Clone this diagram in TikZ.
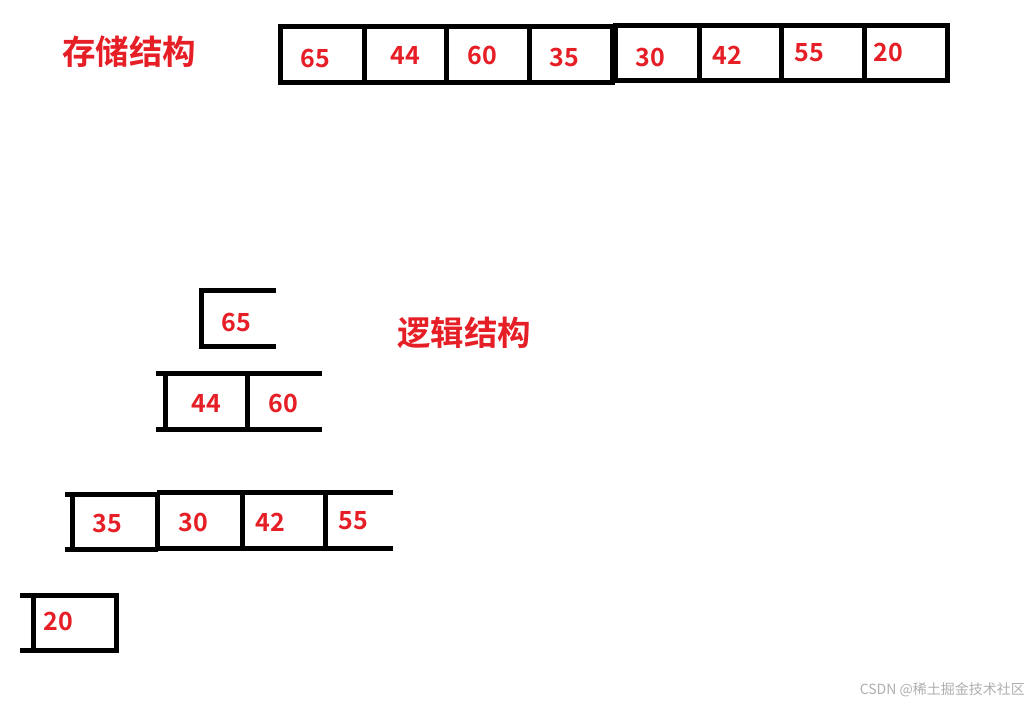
\documentclass[tikz,border=0pt]{standalone}
\usepackage{fontspec}
\setmainfont{Noto Sans CJK SC}[BoldFont={* Bold}]
\newfontfamily\cjkb{Noto Sans CJK SC Bold}
\definecolor{numred}{RGB}{230,30,38}
\definecolor{wmgray}{RGB}{175,175,175}
\begin{document}
\begin{tikzpicture}[x=1pt,y=-1pt,
  edge/.style={line width=5pt,black,line join=miter},
  num/.style={text=numred,font=\cjkb\fontsize{25}{27}\selectfont,inner sep=0pt},
  title/.style={text=numred,font=\cjkb\fontsize{33.5}{35}\selectfont,inner sep=0pt},
  wm/.style={text=wmgray,font=\fontsize{14}{16}\selectfont,inner sep=0pt}]
\fill[white] (0,0) rectangle (1033,706);
\useasboundingbox (0,0) rectangle (1033,706);

% ---- storage structure ----
\node[title] (t1) at (129,52) {存储结构};
\draw[edge] (280.5,26.5) rectangle (612,82.5);
\draw[edge] (364,26.5) -- (364,82.5);
\draw[edge] (446,26.5) -- (446,82.5);
\draw[edge] (529,26.5) -- (529,82.5);
\draw[edge] (615.5,25.5) rectangle (947,80.5);
\draw[edge] (699,25.5) -- (699,80.5);
\draw[edge] (781,25.5) -- (781,80.5);
\draw[edge] (864,25.5) -- (864,80.5);
\node[num] (s1) at (315,58) {65};
\node[num] (s2) at (405,55) {44};
\node[num] (s3) at (482,55.5) {60};
\node[num] (s4) at (564,57.5) {35};
\node[num] (s5) at (650,57) {30};
\node[num] (s6) at (727,55) {42};
\node[num] (s7) at (809,53) {55};
\node[num] (s8) at (888,52) {20};

% ---- logical structure ----
\node[title] (t2) at (464,333) {逻辑结构};

% level 1
\draw[edge] (276,290) -- (201.5,290) -- (201.5,346.5) -- (276,346.5);
\node[num] (l1) at (236,322) {65};

% level 2
\draw[edge] (156,373.5) -- (322,373.5);
\draw[edge] (156,429.5) -- (322,429.5);
\draw[edge] (165,373.5) -- (165,429.5);
\draw[edge] (247,373.5) -- (247,429.5);
\node[num] (l2a) at (206,403) {44};
\node[num] (l2b) at (283,403) {60};

% level 3
\draw[edge] (65,494) -- (158,494);
\draw[edge] (65,549.5) -- (158,549.5);
\draw[edge] (157,492.5) -- (393,492.5);
\draw[edge] (157,548) -- (393,548);
\draw[edge] (72.5,494) -- (72.5,549.5);
\draw[edge] (157,492.5) -- (157,549.5);
\draw[edge] (242.5,492.5) -- (242.5,548);
\draw[edge] (325.5,492.5) -- (325.5,548);
\node[num] (l3a) at (107,523) {35};
\node[num] (l3b) at (193,522) {30};
\node[num] (l3c) at (270,522) {42};
\node[num] (l3d) at (353,521) {55};

% level 4
\draw[edge] (20,595) -- (116.5,595) -- (116.5,650) -- (20,650);
\draw[edge] (33.5,595) -- (33.5,650);
\node[num] (l4) at (58,621) {20};

% watermark
\node[wm,anchor=east] (w) at (1025,690) {CSDN @稀土掘金技术社区};
\end{tikzpicture}
\end{document}
